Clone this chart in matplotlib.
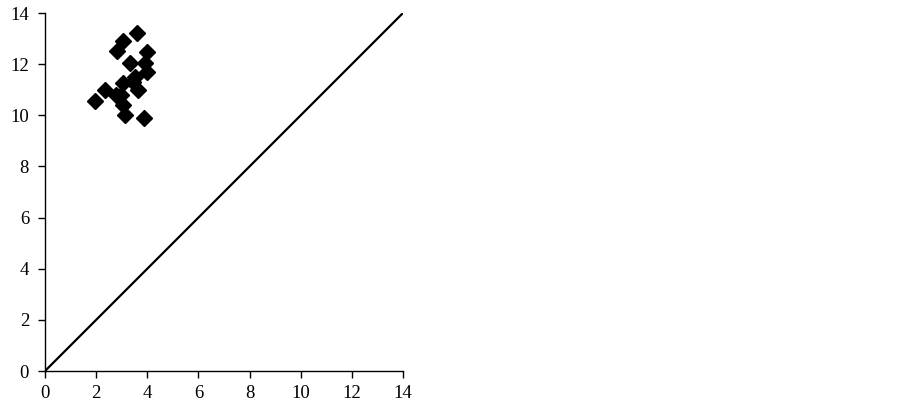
import numpy as np
import matplotlib.pyplot as plt

# Data
x_vals = [1.96, 2.35, 2.78, 2.82, 3.05, 3.6, 3.32, 4.0, 3.93, 4.0,
          3.05, 3.52, 3.45, 3.62, 2.98, 3.05, 3.13, 3.87]
y_vals = [10.56, 11.0, 10.8, 12.5, 12.9, 13.2, 12.05, 12.47, 12.05, 11.7,
          11.25, 11.5, 11.3, 11.0, 10.8, 10.4, 10.0, 9.9]
line_x = [0, 14]
line_y = [0, 14]
ticks = [0, 2, 4, 6, 8, 10, 12, 14]

plt.rcParams['font.family'] = ['Liberation Serif', 'DejaVu Serif']

fig = plt.figure(figsize=(9.02, 4.09), dpi=100)
ax = fig.add_axes([45 / 902, 38 / 409, 358 / 902, 358 / 409])

ax.plot(line_x, line_y, color='black', linewidth=1.6)
ax.plot(x_vals, y_vals, linestyle='none', marker='D', markersize=7.8,
        color='black', clip_on=False)

ax.set_xlim(0, 14)
ax.set_ylim(0, 14)
ax.set_xticks(ticks)
ax.set_yticks(ticks)
ax.spines['top'].set_visible(False)
ax.spines['right'].set_visible(False)
ax.spines['left'].set_linewidth(1.0)
ax.spines['bottom'].set_linewidth(1.0)
ax.tick_params(direction='out', length=5, width=1.0, labelsize=13.5)
ax.tick_params(axis='x', pad=5)
ax.tick_params(axis='y', pad=6.5)

fig.savefig('out.png', dpi=100)
